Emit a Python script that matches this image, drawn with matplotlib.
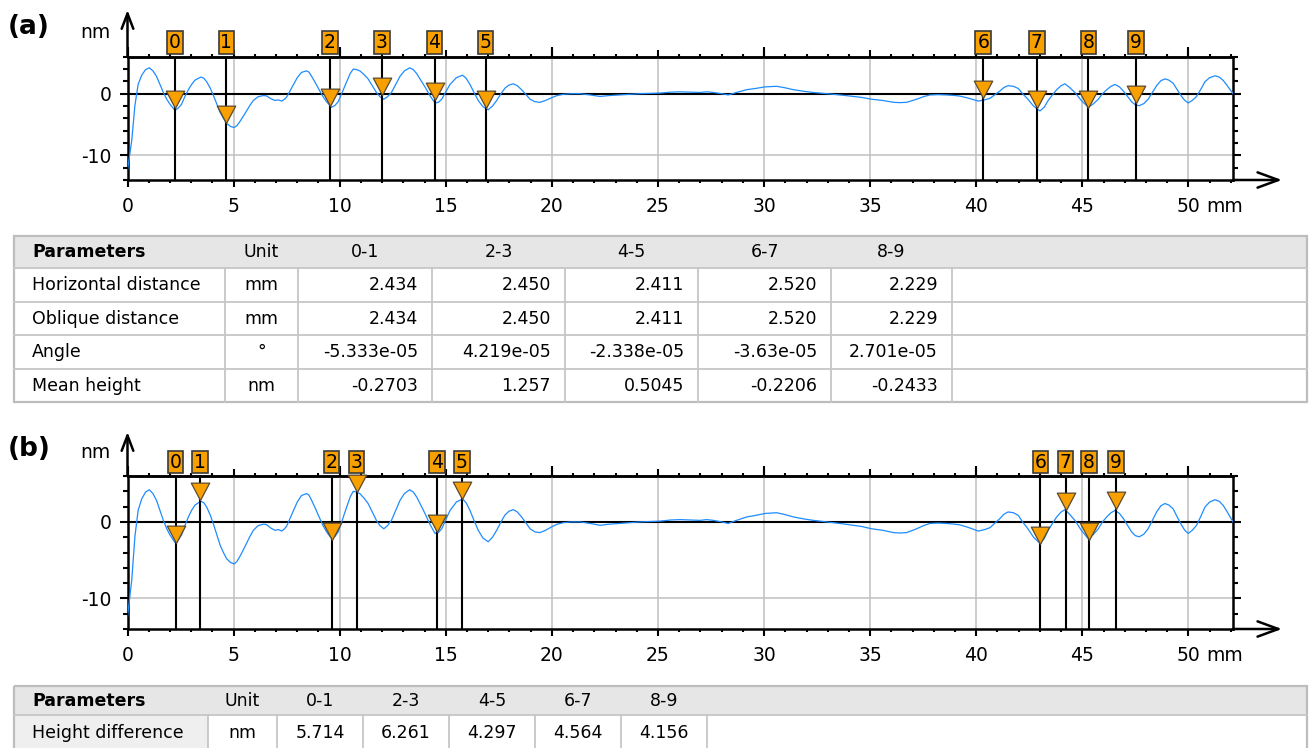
import matplotlib
matplotlib.use("Agg")
import matplotlib.pyplot as plt
from matplotlib.ticker import MultipleLocator, FixedLocator
from matplotlib.path import Path
from matplotlib.patches import Rectangle
from matplotlib.lines import Line2D

plt.rcParams['font.family'] = ['DejaVu Sans']

# ---------------- data ----------------
profile_x = [0.00, 0.10, 0.20, 0.35, 0.50, 0.67, 0.85, 1.03, 1.20, 1.37, 1.53, 1.69, 1.85, 2.00, 2.24, 2.40,
             2.55, 2.70, 2.87, 3.02, 3.18, 3.46, 3.60, 3.73, 3.90, 4.04, 4.20, 4.36, 4.52, 4.67, 4.85, 5.02,
             5.15, 5.30, 5.45, 5.61, 5.77, 5.93, 6.15, 6.40, 6.55, 6.75, 6.95, 7.10, 7.27, 7.40, 7.50, 7.65,
             7.82, 8.00, 8.20, 8.44, 8.55, 8.68, 8.88, 9.07, 9.22, 9.38, 9.62, 9.78, 9.93, 10.13, 10.33, 10.50,
             10.64, 10.80, 10.95, 11.15, 11.34, 11.55, 11.73, 11.90, 12.08, 12.25, 12.44, 12.64, 12.84, 13.05,
             13.30, 13.47, 13.63, 13.82, 14.02, 14.25, 14.49, 14.65, 14.81, 15.00, 15.20, 15.50, 15.79, 15.96,
             16.14, 16.33, 16.53, 16.75, 17.00, 17.20, 17.40, 17.60, 17.79, 17.98, 18.18, 18.37, 18.57, 18.77,
             18.97, 19.20, 19.44, 19.70, 19.99, 20.25, 20.54, 20.90, 21.33, 21.80, 22.27, 22.70, 23.20, 23.70,
             24.15, 24.60, 25.10, 25.60, 26.04, 26.50, 26.98, 27.30, 27.61, 28.00, 28.31, 28.70, 29.18, 29.60,
             30.04, 30.59, 31.00, 31.38, 31.85, 32.32, 32.80, 33.26, 33.70, 34.20, 34.60, 35.07, 35.60, 36.10,
             36.40, 36.72, 37.00, 37.19, 37.50, 37.82, 38.20, 38.60, 39.00, 39.24, 39.60, 40.10, 40.40, 40.65,
             40.90, 41.12, 41.30, 41.50, 41.75, 41.98, 42.18, 42.37, 42.70, 43.00, 43.20, 43.39, 43.59, 43.79,
             44.00, 44.18, 44.40, 44.65, 44.95, 45.28, 45.50, 45.75, 45.95, 46.15, 46.35, 46.54, 46.75, 46.93,
             47.12, 47.32, 47.50, 47.68, 47.90, 48.10, 48.30, 48.50, 48.70, 48.89, 49.08, 49.28, 49.48, 49.68,
             49.83, 49.99, 50.18, 50.38, 50.58, 50.78, 51.00, 51.25, 51.45, 51.64, 51.85, 52.10]
profile_y = [-12.4, -10.0, -7.6, -1.9, 1.5, 3.0, 3.9, 4.2, 3.7, 2.8, 1.5, 0.2, -0.9, -1.7, -2.7, -2.3,
             -1.7, -0.5, 0.65, 1.5, 2.2, 2.7, 2.5, 1.95, 0.9, -0.2, -1.6, -3.0, -4.0, -4.8, -5.3, -5.5,
             -5.2, -4.5, -3.7, -2.8, -1.9, -1.1, -0.5, -0.3, -0.35, -0.8, -1.1, -1.0, -1.2, -0.9, -0.55, 0.4,
             1.5, 2.6, 3.45, 3.7, 3.5, 2.8, 1.6, 0.4, -0.5, -1.3, -2.2, -1.9, -1.3, 0.3, 1.95, 3.3,
             4.0, 3.9, 3.7, 3.1, 2.4, 1.2, 0.2, -0.5, -0.9, -0.5, 0.2, 1.5, 2.8, 3.7,
             4.2, 3.9, 3.25, 2.2, 1.1, -0.3, -1.5, -1.4, -0.9, 0.3, 1.5, 2.6, 3.0, 2.5,
             1.5, 0.2, -1.1, -2.1, -2.6, -2.0, -1.1, 0.0, 0.9, 1.4, 1.6, 1.3, 0.65, -0.1,
             -0.9, -1.3, -1.4, -1.1, -0.65, -0.3, -0.1, 0.0, 0.0, -0.2, -0.45, -0.3, -0.2, -0.1,
             0.0, 0.05, 0.1, 0.25, 0.3, 0.25, 0.2, 0.3, 0.2, 0.0, -0.2, 0.2, 0.65, 0.85,
             1.1, 1.2, 0.95, 0.65, 0.4, 0.2, 0.05, -0.1, -0.25, -0.45, -0.6, -0.9, -1.1, -1.4,
             -1.45, -1.4, -1.1, -0.9, -0.5, -0.2, -0.15, -0.2, -0.3, -0.4, -0.7, -1.2, -1.0, -0.75,
             -0.1, 0.45, 1.0, 1.3, 1.2, 0.85, 0.0, -0.65, -2.0, -2.8, -2.2, -1.1, -0.2, 0.65,
             1.3, 1.6, 1.0, 0.2, -1.1, -2.2, -1.7, -0.9, 0.0, 0.65, 1.2, 1.5, 1.1, 0.45,
             -0.4, -1.3, -1.8, -1.95, -1.6, -0.9, 0.2, 1.3, 2.1, 2.4, 2.2, 1.7, 0.6, -0.45,
             -1.1, -1.5, -1.1, -0.45, 0.7, 1.95, 2.6, 2.9, 2.7, 2.15, 1.2, 0.0]

marker_labels = ['0', '1', '2', '3', '4', '5', '6', '7', '8', '9']
markers_a_x = [2.23, 4.66, 9.54, 11.99, 14.47, 16.88, 40.33, 42.85, 45.29, 47.52]
markers_a_y = [-2.3, -4.7, -2.0, -0.2, -1.0, -2.3, -0.7, -2.3, -2.3, -1.5]
markers_b_x = [2.27, 3.42, 9.62, 10.80, 14.57, 15.76, 43.02, 44.21, 45.30, 46.58]
markers_b_y = [-2.7, 2.9, -2.35, 3.9, -1.3, 3.0, -2.9, 1.6, -2.4, 1.7]

x_major_ticks = [0, 5, 10, 15, 20, 25, 30, 35, 40, 45, 50]
x_tick_labels = ['0', '5', '10', '15', '20', '25', '30', '35', '40', '45', '50']
x_top_long_ticks = [0, 10, 20, 30, 40, 50]
y_major_ticks = [-10, 0]
y_tick_labels = ['-10', '0']

pair_labels = ['0-1', '2-3', '4-5', '6-7', '8-9']
table_a_params = ['Horizontal distance', 'Oblique distance', 'Angle', 'Mean height']
table_a_units = ['mm', 'mm', '\u00b0', 'nm']
horizontal_distance = ['2.434', '2.450', '2.411', '2.520', '2.229']
oblique_distance = ['2.434', '2.450', '2.411', '2.520', '2.229']
angle_values = ['-5.333e-05', '4.219e-05', '-2.338e-05', '-3.63e-05', '2.701e-05']
mean_height = ['-0.2703', '1.257', '0.5045', '-0.2206', '-0.2433']
table_b_params = ['Height difference']
table_b_units = ['nm']
height_difference = ['5.714', '6.261', '4.297', '4.564', '4.156']

# ---------------- layout helpers ----------------
W, H = 1309, 748
fig = plt.figure(figsize=(W / 100, H / 100), dpi=100)

ORANGE = '#F7A000'
BLUE = '#1E8CFF'
GRID = '#C0C0C0'


def add_axes_px(left, top, right, bottom):
    return fig.add_axes([left / W, 1 - bottom / H, (right - left) / W, (bottom - top) / H])


# custom triangle marker with the tip at the data point
tri_marker = Path([(0, 0), (-1.06, 2), (1.06, 2), (0, 0)],
                  [Path.MOVETO, Path.LINETO, Path.LINETO, Path.CLOSEPOLY])


def draw_panel(top, bottom, mx, my, arrow_top, letter, letter_y, nm_y):
    left, right = 127.5, 1233
    ax = add_axes_px(left, top, right, bottom)
    ax.set_xlim(0, 52.1)
    ax.set_ylim(-14, 6)
    for s in ax.spines.values():
        s.set_linewidth(1.8)
        s.set_color('black')
    ax.set_xticks(x_major_ticks)
    ax.set_xticklabels(x_tick_labels)
    ax.xaxis.set_minor_locator(MultipleLocator(1))
    ax.set_yticks(y_major_ticks)
    ax.set_yticklabels(y_tick_labels)
    ax.yaxis.set_minor_locator(MultipleLocator(2))
    ax.tick_params(axis='x', which='major', direction='out', length=5, width=1.5,
                   top=True, bottom=True, labelsize=13.5, pad=7)
    ax.tick_params(axis='x', which='minor', direction='out', length=2.5, width=1.5,
                   top=True, bottom=True)
    ax.tick_params(axis='y', which='major', direction='out', length=5.5, width=1.5,
                   left=True, right=True, labelsize=13.5, pad=6)
    ax.tick_params(axis='y', which='minor', direction='out', length=3.5, width=1.5,
                   left=True, right=True)
    ax.grid(True, which='major', color=GRID, lw=1.1, zorder=0)
    ax.set_axisbelow(True)
    ax.axhline(0, color='black', lw=1.5, zorder=2)

    # longer ticks on the top edge at every 10 mm
    sec = ax.secondary_xaxis('top')
    sec.set_xticks(x_top_long_ticks)
    sec.tick_params(axis='x', which='major', direction='out', length=7.5, width=1.5,
                    labeltop=False)
    sec.xaxis.set_minor_locator(FixedLocator([]))
    sec.spines['top'].set_linewidth(1.8)

    ax.plot(profile_x, profile_y, color=BLUE, lw=0.9, zorder=3)

    for xv, yv, lab in zip(mx, my, marker_labels):
        ax.axvline(xv, color='black', lw=1.5, zorder=4)
        ax.plot([xv], [yv], marker=tri_marker, ms=25, mfc=ORANGE, mec='#5a4a30',
                mew=0.9, ls='none', zorder=5, clip_on=False)
        ax.annotate(lab, xy=(xv, 1), xycoords=('data', 'axes fraction'),
                    xytext=(0, 3.2), textcoords='offset points', ha='center', va='bottom',
                    fontsize=13.5, color='black', annotation_clip=False, zorder=6,
                    bbox=dict(boxstyle='square,pad=0.1', fc=ORANGE, ec='#3a3a3a', lw=1.2))

    # "mm" unit after the last tick label
    ax.annotate('mm', xy=(50, 0), xycoords=('data', 'axes fraction'),
                xytext=(12.5, -12), textcoords='offset points', ha='left', va='top',
                fontsize=13.5, annotation_clip=False)

    # axis arrows
    h = bottom - top
    ax.annotate('', xy=(0, 1 + (top - arrow_top) / h), xycoords='axes fraction',
                xytext=(0, 1), textcoords='axes fraction', annotation_clip=False,
                arrowprops=dict(arrowstyle='->,head_length=1.1,head_width=0.42', lw=1.8,
                                color='black', shrinkA=0, shrinkB=0))
    ax.annotate('', xy=(1 + (1282 - right) / (right - left), 0), xycoords='axes fraction',
                xytext=(1, 0), textcoords='axes fraction', annotation_clip=False,
                arrowprops=dict(arrowstyle='->,head_length=1.5,head_width=0.55', lw=1.8,
                                color='black', shrinkA=0, shrinkB=0))

    fig.text(8 / W, 1 - letter_y / H, letter, fontsize=19, fontweight='bold',
             ha='left', va='center')
    fig.text(110 / W, 1 - nm_y / H, 'nm', fontsize=13.5, ha='right', va='center')
    return ax


draw_panel(56.7, 180, markers_a_x, markers_a_y, 10, '(a)', 27, 32)
draw_panel(476, 629, markers_b_x, markers_b_y, 432, '(b)', 449, 452)

# ---------------- tables ----------------
tab = fig.add_axes([0, 0, 1, 1], zorder=-1)
tab.set_xlim(0, W)
tab.set_ylim(H, 0)
tab.axis('off')

HEADER_BG = '#E6E6E6'
LINE = '#C6C6C6'
FS = 12.5


def draw_table(col_edges, row_edges, rows, first_col_bg, value_align):
    x0, x1 = col_edges[0], col_edges[-1]
    y0, y1 = row_edges[0], row_edges[-1]
    tab.add_patch(Rectangle((x0, row_edges[0]), x1 - x0, row_edges[1] - row_edges[0],
                            fc=HEADER_BG, ec='none'))
    if first_col_bg is not None:
        tab.add_patch(Rectangle((x0, row_edges[1]), col_edges[1] - x0, y1 - row_edges[1],
                                fc=first_col_bg, ec='none'))
    for y in row_edges[1:-1]:
        tab.add_line(Line2D([x0, x1], [y, y], color=LINE, lw=1.3))
    for x in col_edges[1:-1]:
        tab.add_line(Line2D([x, x], [row_edges[1], y1], color=LINE, lw=1.3))
    tab.add_patch(Rectangle((x0, y0), x1 - x0, y1 - y0, fc='none', ec='#BDBDBD', lw=1.6))

    # header
    yc = (row_edges[0] + row_edges[1]) / 2
    tab.text(col_edges[0] + 18, yc, 'Parameters', fontsize=FS, fontweight='bold',
             ha='left', va='center')
    tab.text((col_edges[1] + col_edges[2]) / 2, yc, 'Unit', fontsize=FS, ha='center', va='center')
    for i, lab in enumerate(pair_labels):
        tab.text((col_edges[2 + i] + col_edges[3 + i]) / 2, yc, lab, fontsize=FS,
                 ha='center', va='center')
    # body
    for r, (name, unit, vals) in enumerate(rows):
        yc = (row_edges[r + 1] + row_edges[r + 2]) / 2
        tab.text(col_edges[0] + 18, yc, name, fontsize=FS, ha='left', va='center')
        tab.text((col_edges[1] + col_edges[2]) / 2, yc, unit, fontsize=FS, ha='center', va='center')
        for i, v in enumerate(vals):
            if value_align == 'right':
                tab.text(col_edges[3 + i] - 14, yc, v, fontsize=FS, ha='right', va='center')
            else:
                tab.text((col_edges[2 + i] + col_edges[3 + i]) / 2, yc, v, fontsize=FS,
                         ha='center', va='center')


rows_a = [(table_a_params[0], table_a_units[0], horizontal_distance),
          (table_a_params[1], table_a_units[1], oblique_distance),
          (table_a_params[2], table_a_units[2], angle_values),
          (table_a_params[3], table_a_units[3], mean_height)]
draw_table([14, 225, 298, 432, 565, 698, 831, 952, 1307],
           [236, 268, 302, 335, 369, 402], rows_a, None, 'right')

rows_b = [(table_b_params[0], table_b_units[0], height_difference)]
draw_table([14, 208, 277, 363, 449, 535, 621, 707, 1307],
           [686, 715, 752], rows_b, '#EFEFEF', 'center')

fig.savefig('out.png', dpi=100)
